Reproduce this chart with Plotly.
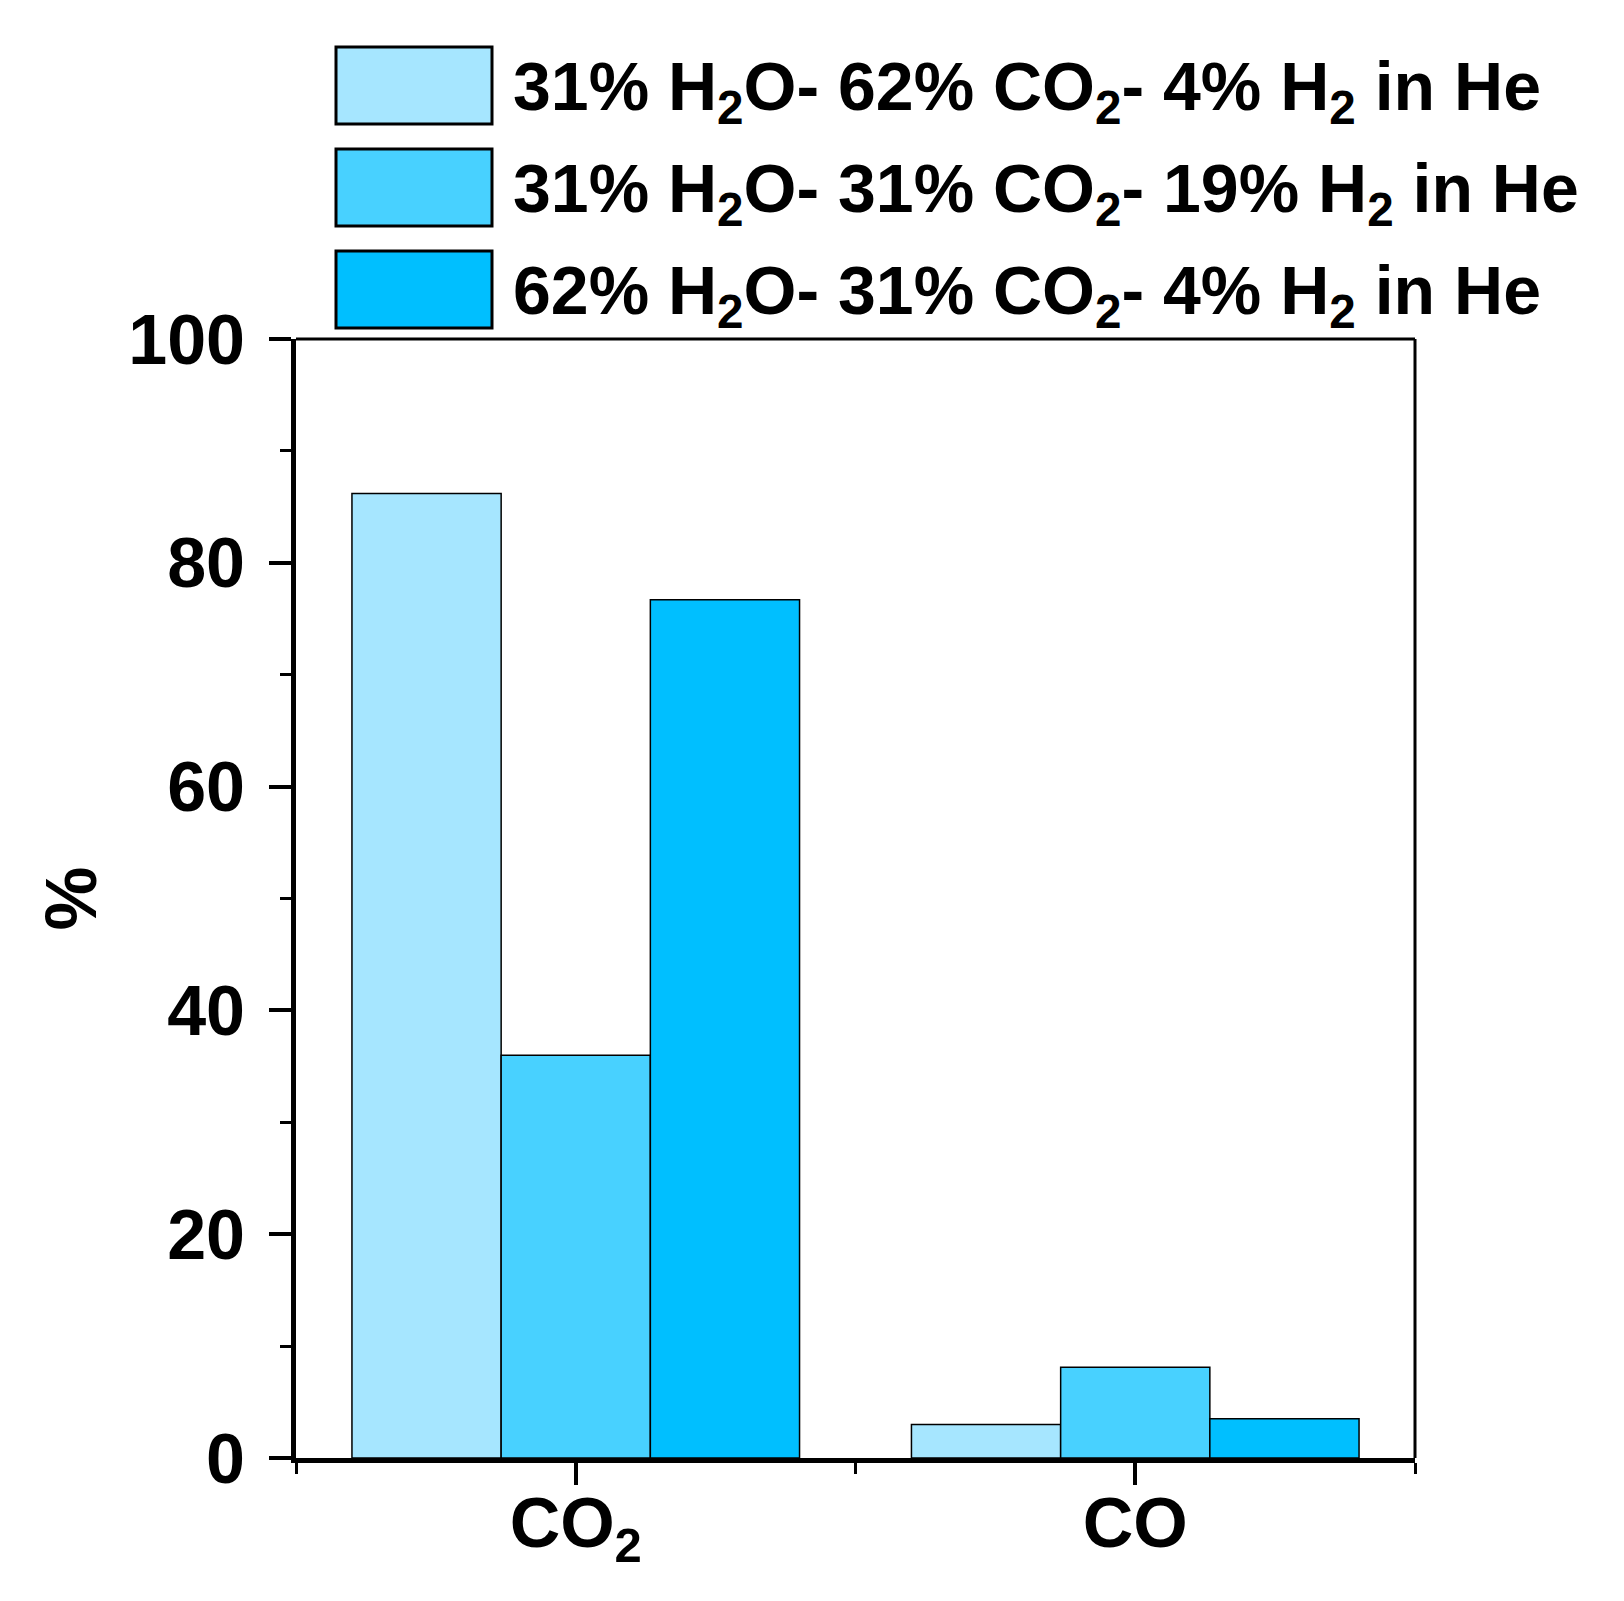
import plotly.graph_objects as go

# dados
categorias = [0, 1]
rotulos = ["CO<sub>2</sub>", "CO"]
series = [
    "31% H<sub>2</sub>O- 62% CO<sub>2</sub>- 4% H<sub>2</sub> in He",
    "31% H<sub>2</sub>O- 31% CO<sub>2</sub>- 19% H<sub>2</sub> in He",
    "62% H<sub>2</sub>O- 31% CO<sub>2</sub>- 4% H<sub>2</sub> in He",
]
valores_a = [86.2, 3.0]
valores_b = [36.0, 8.1]
valores_c = [76.7, 3.5]
cores = ["#A6E6FF", "#48D1FF", "#00BFFF"]

W, H = 1624, 1601
L, R, T, B = 288, 217, 331, 151
pw, ph = W - L - R, H - T - B

fig = go.Figure()
for nome, vals, cor in zip(series, [valores_a, valores_b, valores_c], cores):
    fig.add_trace(go.Bar(
        x=categorias, y=vals, name=nome, showlegend=False,
        marker=dict(color=cor, line=dict(color="black", width=1.5)),
    ))

# legenda manual (caixas grandes como no original)
def px_x(p):
    return (p - L) / pw

def px_y(p):
    return (H - B - p) / ph

shapes = []
annotations = []
for i, (nome, cor) in enumerate(zip(series, cores)):
    y0 = 39 + i * 102
    shapes.append(dict(type="rect", xref="paper", yref="paper",
                       x0=px_x(328), x1=px_x(484), y0=px_y(y0 + 77), y1=px_y(y0),
                       fillcolor=cor, line=dict(color="black", width=3)))
    annotations.append(dict(text=nome, xref="paper", yref="paper",
                            x=px_x(503), y=px_y(y0 + 44), xanchor="left", yanchor="middle",
                            showarrow=False,
                            font=dict(family="Liberation Sans", size=68, color="black", weight="bold")))

# linhas de cima e da direita (mais finas)
shapes.append(dict(type="line", xref="paper", yref="paper", x0=0, x1=1, y0=1, y1=1,
                   line=dict(color="black", width=3)))
shapes.append(dict(type="line", xref="paper", yref="paper", x0=1, x1=1, y0=0, y1=1,
                   line=dict(color="black", width=3)))

fig.update_layout(
    width=W, height=H,
    margin=dict(l=L, r=R, t=T, b=B),
    plot_bgcolor="white", paper_bgcolor="white",
    barmode="group", bargap=0.2, bargroupgap=0,
    font=dict(family="Liberation Sans", size=70, color="black", weight="bold"),
    shapes=shapes, annotations=annotations,
    xaxis=dict(
        range=[-0.5, 1.5], tickmode="array", tickvals=categorias, ticktext=rotulos,
        showline=True, linecolor="black", linewidth=5,
        ticks="outside", ticklen=22, tickwidth=4, tickcolor="black",
        showgrid=False, zeroline=False, ticklabelstandoff=-22,
        minor=dict(tickvals=[-0.5, 0.5, 1.5], ticks="outside", ticklen=11, tickwidth=3, tickcolor="black"),
    ),
    yaxis=dict(
        range=[0, 100], dtick=20,
        title=dict(text="%", standoff=10,
                   font=dict(family="Liberation Sans", size=72, color="black", weight="bold")),
        showline=True, linecolor="black", linewidth=5,
        ticks="outside", ticklen=22, tickwidth=4, tickcolor="black",
        showgrid=False, zeroline=False, ticklabelstandoff=10,
        minor=dict(dtick=10, ticks="outside", ticklen=11, tickwidth=3, tickcolor="black"),
    ),
)

fig.write_html("out.html")
